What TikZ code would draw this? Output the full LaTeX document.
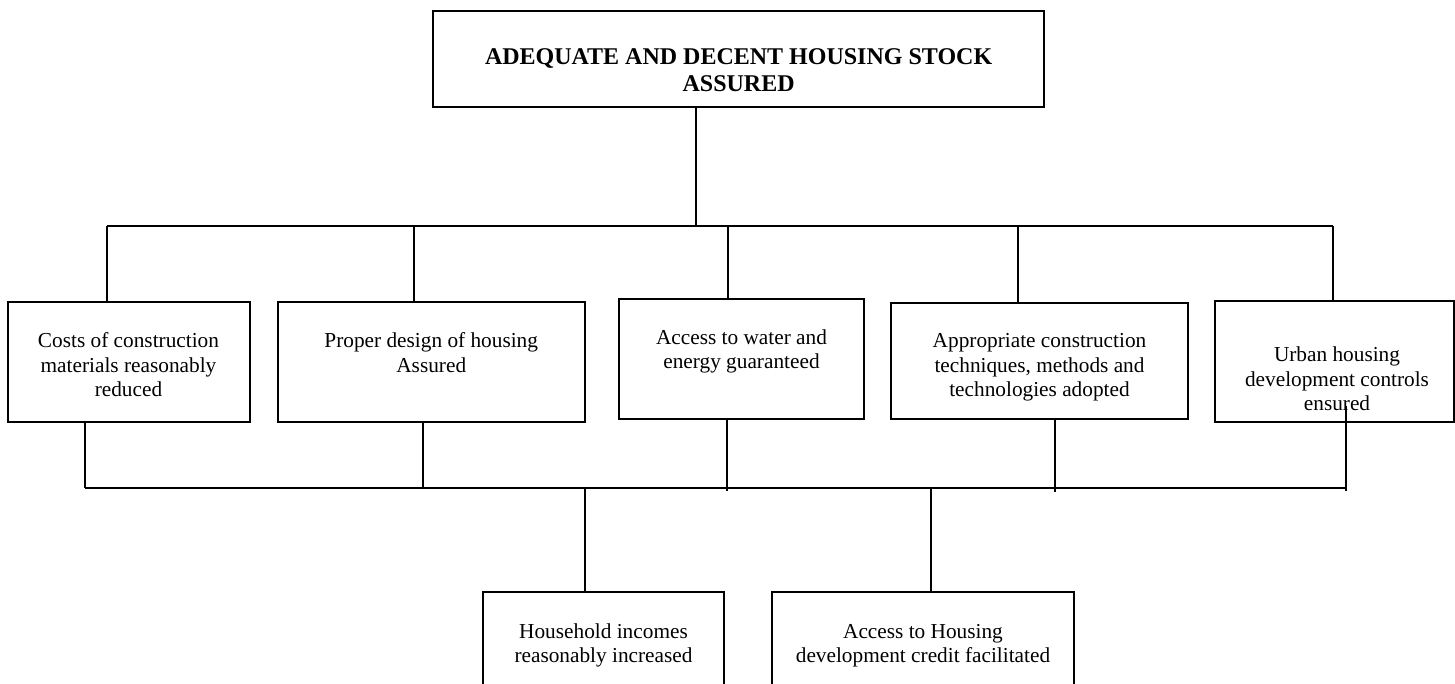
\documentclass[tikz,border=0pt]{standalone}
\usepackage{fontspec}
\setmainfont{Liberation Serif}
% invisible strut that fixes the height of the first text line
\newcommand\hdstrut[1]{\rule{0pt}{#1}}
\begin{document}
\begin{tikzpicture}[x=1pt,y=-1pt,
  box/.style={draw, line width=2pt, inner sep=0pt, outer sep=0pt, anchor=north west},
  lbl/.style={anchor=north, inner sep=0pt, align=center, font=\fontsize{21.3}{24.5}\selectfont},
  hdr/.style={anchor=north, inner sep=0pt, align=center, font=\fontsize{24}{27}\selectfont\bfseries},
  wire/.style={line width=1.8pt}]
\useasboundingbox (0,0) rectangle (1455,684);
\clip (0,0) rectangle (1455,684);

% goal box
\node[box, minimum width=611pt, minimum height=96pt] (top) at (433,10.7) {};
\node[hdr] (toptxt) at (738.6,42) {\hdstrut{22pt}ADEQUATE AND DECENT HOUSING STOCK\\ASSURED};

% outcome boxes, first row
\node[box, minimum width=242pt, minimum height=120pt] (b1) at (7.5,301.7) {};
\node[box, minimum width=306.5pt, minimum height=120pt] (b2) at (278,301.7) {};
\node[box, minimum width=245pt, minimum height=120pt] (b3) at (619,299) {};
\node[box, minimum width=297pt, minimum height=116.3pt] (b4) at (891,302.7) {};
\node[box, minimum width=238.5pt, minimum height=121pt] (b5) at (1215,300.7) {};

\node[lbl] (t1) at ([yshift=-26pt]b1.north) {\hdstrut{20pt}Costs of construction\\materials reasonably\\reduced};
\node[lbl] (t2) at ([yshift=-26pt]b2.north) {\hdstrut{20pt}Proper design of housing\\Assured};
\node[lbl] (t3) at ([yshift=-25pt]b3.north) {\hdstrut{20pt}Access to water and\\energy guaranteed};
\node[lbl] (t4) at ([yshift=-25pt]b4.north) {\hdstrut{20pt}Appropriate construction\\techniques, methods and\\technologies adopted};
\node[lbl] (t5) at (1337,341.7) {\hdstrut{20pt}Urban housing\\development controls\\ensured};

% outcome boxes, second row
\node[box, minimum width=241pt, minimum height=130pt] (b6) at (483,592) {};
\node[box, minimum width=302pt, minimum height=130pt] (b7) at (772,592) {};
\node[lbl] (t6) at ([yshift=-26pt]b6.north) {\hdstrut{20pt}Household incomes\\reasonably increased};
\node[lbl] (t7) at ([yshift=-26pt]b7.north) {\hdstrut{20pt}Access to Housing\\development credit facilitated};

% upper bus
\coordinate (h0) at (696,226);
\coordinate (h1) at (107,226);
\coordinate (h2) at (414,226);
\coordinate (h3) at (728,226);
\coordinate (h4) at (1018,226);
\coordinate (h5) at (1333,226);
\draw[wire] (top.south -| h0) -- (h0);
\draw[wire] (h1) -- (h5);
\draw[wire] (h1) -- (h1 |- b1.north);
\draw[wire] (h2) -- (h2 |- b2.north);
\draw[wire] (h3) -- (h3 |- b3.north);
\draw[wire] (h4) -- (h4 |- b4.north);
\draw[wire] (h5) -- (h5 |- b5.north);

% lower bus
\coordinate (g1) at (85,488);
\coordinate (g2) at (423,488);
\coordinate (g3) at (727,488);
\coordinate (g4) at (1055,488);
\coordinate (g5) at (1345.6,488);
\coordinate (e5) at (1345.6,406);
\draw[wire] (g1) -- (g5);
\draw[wire] (b1.south -| g1) -- (g1);
\draw[wire] (b2.south -| g2) -- (g2);
\draw[wire] (b3.south -| g3) -- ([yshift=-3pt]g3);
\draw[wire] (b4.south -| g4) -- ([yshift=-4pt]g4);
\draw[wire] (e5) -- ([yshift=-3pt]g5);

% drops to the second row
\coordinate (k6) at (585,488);
\coordinate (k7) at (930.6,488);
\draw[wire] (k6) -- (k6 |- b6.north);
\draw[wire] (k7) -- (k7 |- b7.north);
\end{tikzpicture}
\end{document}
